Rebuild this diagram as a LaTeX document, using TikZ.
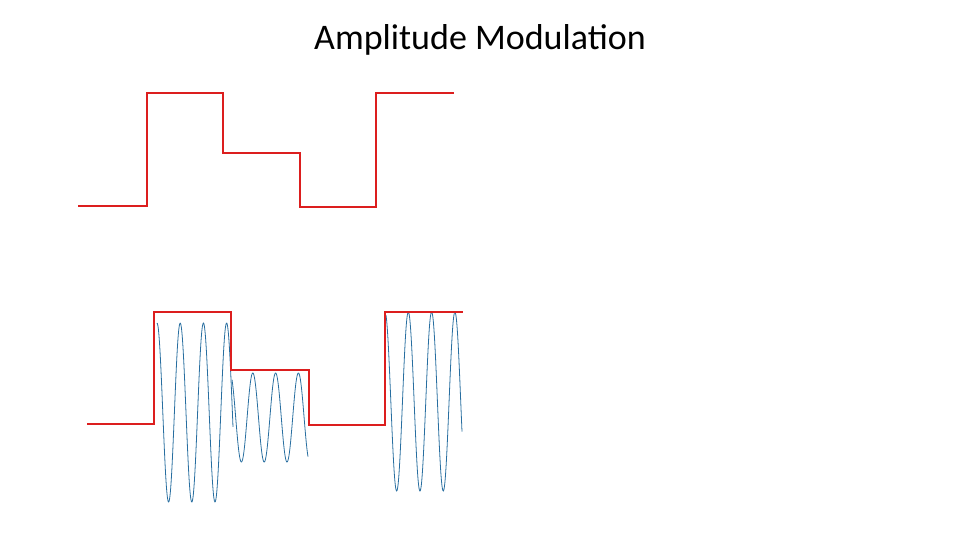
\documentclass[tikz,border=0pt]{standalone}
\usepackage{fontspec}
\setmainfont{Carlito}
\definecolor{sigred}{RGB}{220,30,30}
\definecolor{wave}{RGB}{40,110,160}
\begin{document}
\begin{tikzpicture}[x=0.75pt,y=-0.75pt,
  sig/.style={sigred,line width=2.2pt},
  carrier/.style={wave,line width=0.6pt,smooth,samples=160}]
\useasboundingbox (0,0) rectangle (960,540);
\node[font=\fontsize{27}{32}\selectfont] (title) at (480,40) {Amplitude Modulation};
% message signal
\coordinate (a0) at (78,206);
\draw[sig] (a0) -- (147,206) -- (147,93) -- (223,93) -- (223,153) -- (300,153) -- (300,207) -- (376,207) -- (376,93) -- (454,93);
% modulated carrier
\draw[carrier,domain=157:233] plot (\x,{412.5-89.5*cos((\x-157)/23.2*360)});
\draw[carrier,domain=232:308] plot (\x,{417.5-44.5*cos((\x-230)/22.8*360)});
\draw[carrier,domain=386:462] plot (\x,{401.5-89.5*cos((\x-385)/23.3*360)});
% envelope
\coordinate (b0) at (87,424);
\draw[sig] (b0) -- (154,424) -- (154,312) -- (231,312) -- (231,370) -- (309,370) -- (309,425) -- (385,425) -- (385,312) -- (463,312);
\end{tikzpicture}
\end{document}
